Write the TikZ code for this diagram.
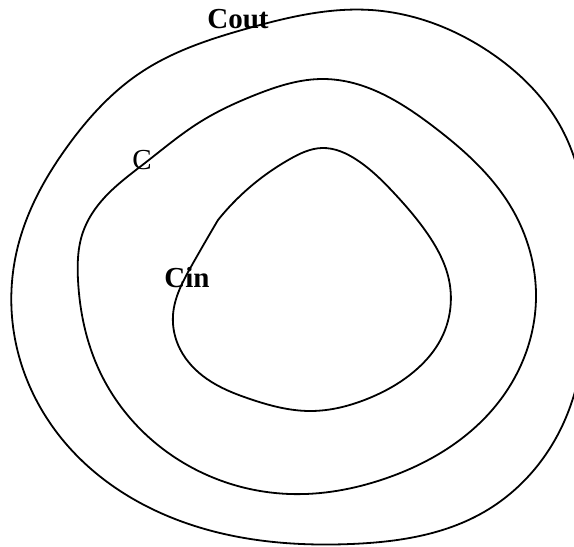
\documentclass[tikz,border=0pt]{standalone}
\usepackage{fontspec}
\setmainfont{Liberation Serif}
\usetikzlibrary{positioning,hobby}

\begin{document}
\begin{tikzpicture}[x=1pt,y=-1pt,line width=1.8pt,
  every node/.style={font=\fontsize{29}{34}\selectfont,inner sep=0pt,anchor=base},
  lbl/.style={font=\fontsize{29}{34}\selectfont\bfseries}]
\useasboundingbox (0,0) rectangle (574,547);
\clip (0,0) rectangle (574,547);
% outer contour
\draw plot[closed hobby] coordinates {(371,10) (491,53) (564,133) (588,275)
  (564,422) (484,512) (351,544) (183,522) (67,445) (15,339) (17,250) (40,190)
  (67,147) (100,107) (140,73) (249,28)};
% middle contour
\draw plot[closed hobby] coordinates {(324,79) (434,127) (511,207) (536,298)
  (501,399) (384,479) (290,494) (167,452) (100,372) (78,280) (83,232) (105,197)
  (145,163) (200,122) (255,95)};
% inner contour
\draw plot[hobby] coordinates {(218,220) (250,187) (290,159) (322,148) (357,160)
  (394,193) (427,233) (449,280) (441,339) (417,369) (367,399) (310,411) (250,399)
  (207,379) (180,349) (173,315) (192,265) (218,220)};
\node[lbl] (cout) at (238,28) {Cout};
\node (cmid) at (142,169) {C};
\node[lbl] (cin) at (187,287) {Cin};
\end{tikzpicture}
\end{document}
